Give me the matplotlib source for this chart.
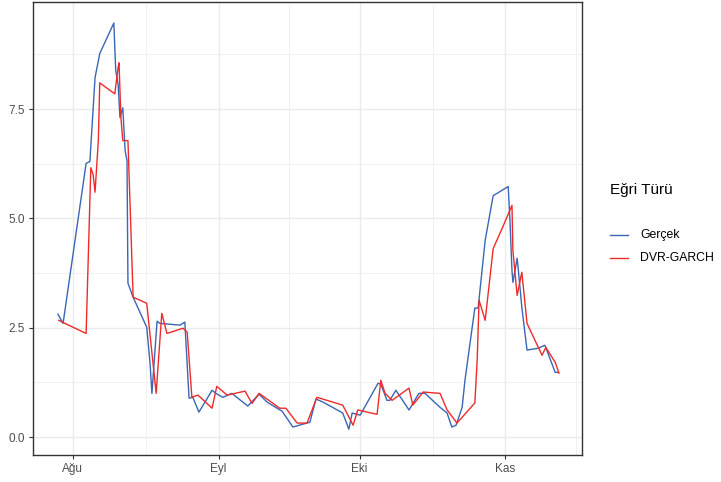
import numpy as np
import pandas as pd
from matplotlib import pyplot as plt
from matplotlib.lines import Line2D

plt.rcParams['font.family'] = ['Liberation Sans', 'DejaVu Sans']

# day offsets from 1 Aug
start = pd.Timestamp('2021-08-01')

gercek_days = [-3.2, -2.1, 2.8, 3.6, 4.7, 5.7, 8.7, 9.1, 9.6, 10.0, 10.6, 11.1, 11.5, 11.7,
               12.8, 15.7, 16.4, 16.8, 17.9, 18.5, 22.8, 23.8, 24.7, 25.5, 26.8, 29.6, 30.4,
               31.9, 33.8, 37.2, 39.6, 41.3, 44.5, 46.8, 50.4, 51.7, 53.2, 57.4, 58.7, 59.4,
               61.1, 64.9, 65.5, 66.8, 67.4, 68.7, 71.5, 73.6, 74.9, 78.1, 79.6, 80.6, 81.5,
               82.8, 83.4, 85.5, 86.2, 87.7, 89.4, 92.6, 93.0, 93.4, 93.6, 94.5, 94.7, 95.5,
               96.6, 98.9, 100.4, 102.6, 103.2]
gercek_vals = [2.81, 2.60, 6.26, 6.30, 8.22, 8.77, 9.47, 8.38, 8.08, 7.31, 7.53, 6.55, 6.32, 3.52,
               3.20, 2.51, 1.69, 1.00, 2.65, 2.60, 2.56, 2.63, 0.89, 0.91, 0.57, 1.07, 1.00,
               0.91, 1.00, 0.71, 0.98, 0.80, 0.59, 0.23, 0.34, 0.87, 0.80, 0.55, 0.18, 0.55,
               0.50, 1.23, 1.21, 0.84, 0.84, 1.07, 0.62, 1.00, 1.00, 0.68, 0.55, 0.23, 0.27,
               0.68, 1.30, 2.95, 2.95, 4.50, 5.52, 5.73, 4.89, 3.81, 3.54, 4.09, 3.88, 2.97,
               1.99, 2.03, 2.10, 1.48, 1.48]

garch_days = [-3.0, -2.1, 2.8, 3.8, 4.3, 4.7, 5.4, 5.7, 8.9, 9.6, 9.8, 10.2, 10.6, 11.7, 12.8,
              15.7, 17.7, 18.9, 20.0, 23.4, 24.3, 25.3, 26.6, 29.6, 30.6, 32.8, 36.6, 38.1,
              39.6, 44.0, 45.3, 47.7, 49.8, 51.9, 57.4, 59.6, 60.6, 64.7, 65.5, 66.4, 67.9,
              71.5, 72.3, 74.5, 78.1, 79.6, 81.7, 85.5, 86.0, 86.4, 87.7, 89.4, 91.3, 93.4,
              93.6, 94.5, 95.5, 96.6, 99.8, 100.6, 102.6, 103.4]
garch_vals = [2.67, 2.62, 2.37, 6.16, 6.00, 5.60, 6.78, 8.10, 7.85, 8.45, 8.56, 7.31, 6.78, 6.78, 3.20,
              3.06, 1.00, 2.83, 2.37, 2.49, 2.40, 0.91, 0.96, 0.66, 1.16, 0.96, 1.05, 0.77,
              1.00, 0.66, 0.66, 0.32, 0.32, 0.91, 0.73, 0.27, 0.62, 0.52, 1.30, 1.00, 0.84,
              1.12, 0.73, 1.03, 1.00, 0.62, 0.32, 0.78, 1.76, 3.13, 2.67, 4.31, 4.77, 5.30,
              4.27, 3.24, 3.77, 2.60, 1.87, 2.05, 1.71, 1.46]

series_names = ['Gerçek', 'DVR-GARCH']
series_colors = ['#3a66b5', '#f02a2a']
month_ticks = ['2021-08-01', '2021-09-01', '2021-10-01', '2021-11-01']
month_labels = ['Ağu', 'Eyl', 'Eki', 'Kas']
minor_ticks = ['2021-08-16 12:00', '2021-09-16 00:00', '2021-10-16 12:00', '2021-11-16 00:00']


def to_dates(days):
    return start + pd.to_timedelta(np.array(days), unit='D')


fig = plt.figure(figsize=(7.21, 4.82), dpi=100)
ax = fig.add_axes([33 / 721, 27 / 482, 549 / 721, 453 / 482])

ax.plot(to_dates(gercek_days), gercek_vals, color=series_colors[0], lw=1.0, zorder=3)
ax.plot(to_dates(garch_days), garch_vals, color=series_colors[1], lw=1.0, zorder=3)

ax.set_xlim(start + pd.Timedelta(days=-8.5), start + pd.Timedelta(days=108.3))
ax.set_ylim(-0.41, 9.95)

ax.set_xticks(pd.to_datetime(month_ticks))
ax.set_xticklabels(month_labels)
ax.set_xticks(pd.to_datetime(minor_ticks, format='mixed'), minor=True)
ax.set_yticks([0, 2.5, 5.0, 7.5])
ax.set_yticklabels(['0.0', '2.5', '5.0', '7.5'])
ax.set_yticks([1.25, 3.75, 6.25, 8.75], minor=True)

ax.grid(True, which='major', color='#ebebeb', lw=1.0, zorder=0)
ax.grid(True, which='minor', color='#ebebeb', lw=0.5, zorder=0)
ax.set_axisbelow(True)
for s in ax.spines.values():
    s.set_color('#333333')
    s.set_linewidth(1.0)
ax.tick_params(which='major', length=3, width=0.8, color='#333333', labelcolor='#4d4d4d',
               labelsize=8.5, pad=3)
ax.tick_params(which='minor', length=0)

# legend drawn on the figure, ggplot style
fig.text(610 / 721, 1 - 190 / 482, 'Eğri Türü', fontsize=11, va='center', ha='left', color='black')
for i, (name, col) in enumerate(zip(series_names, series_colors)):
    yy = 1 - (235 + 23 * i) / 482
    fig.add_artist(Line2D([610 / 721, 628 / 721], [yy, yy], color=col, lw=1.0))
    fig.text(640 / 721, yy, name, fontsize=8.8, va='center', ha='left', color='black')

fig.savefig('out.png', dpi=100)
